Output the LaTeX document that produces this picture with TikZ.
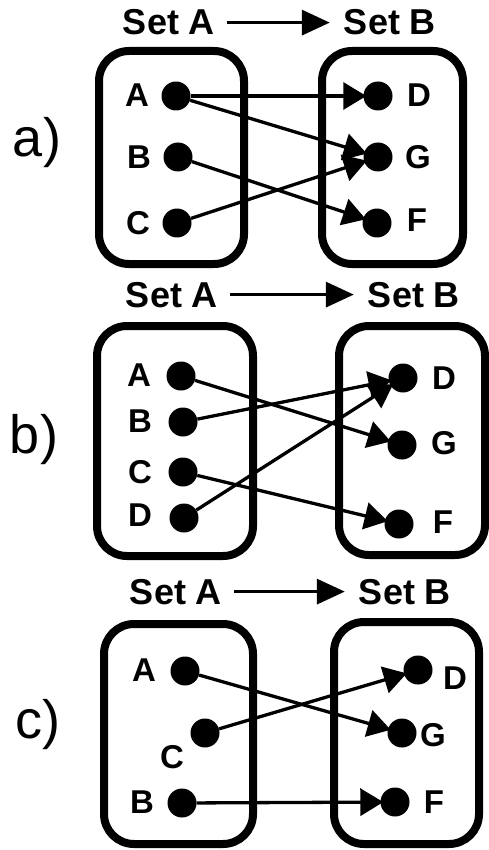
\documentclass[tikz,border=0pt]{standalone}
\usepackage{fontspec}
\setmainfont{Liberation Sans}
\usetikzlibrary{arrows.meta}
\begin{document}
\begin{tikzpicture}[x=1pt,y=-1pt,
  setbox/.style={draw, line width=8pt, rounded corners=30pt},
  dot/.style={circle, fill=black, inner sep=0pt, minimum size=29pt},
  lbl/.style={font=\fontsize{33}{36}\selectfont\bfseries, inner sep=0pt},
  title/.style={font=\fontsize{36}{40}\selectfont\bfseries, inner sep=0pt, anchor=base},
  panel/.style={font=\fontsize{54}{60}\selectfont, inner sep=0pt, anchor=base},
  toparrow/.style={line width=3.5pt, -{Triangle[length=28pt,width=25pt]}, shorten <=12pt, shorten >=14pt},
  mapto/.style={line width=3.3pt, -{Triangle[length=23pt,width=27pt]}, shorten >=-3pt}
]
\fill[white] (0,0) rectangle (489,850);
\useasboundingbox (0,0) rectangle (489,850);

% ---------------- panel a ----------------
\node[panel] (pa) at (37,157) {a)};
\node[title] (aSA) at (169,35) {Set A};
\node[title] (aSB) at (390,35) {Set B};
\draw[toparrow] (aSA) -- (aSB);
\draw[setbox] (99,51) rectangle (244,264);
\draw[setbox] (322,51) rectangle (463,264);
\node[dot] (aA) at (176,96) {};
\node[dot] (aB) at (178,157) {};
\node[dot] (aC) at (177,223) {};
\node[dot] (aD) at (378,96) {};
\node[dot] (aG) at (378,157) {};
\node[dot] (aF) at (377,223) {};
\node[lbl] (laA) at (137,95) {A};
\node[lbl] (laB) at (139,157) {B};
\node[lbl] (laC) at (138,223) {C};
\node[lbl] (laD) at (419,95) {D};
\node[lbl] (laG) at (418,157) {G};
\node[lbl] (laF) at (417,220) {F};
\draw[mapto] (aA) -- (aD);
\draw[mapto] (aA) -- (aG);
\draw[mapto] (aB) -- (aF);
\draw[mapto] (aC) -- (aG);

% ---------------- panel b ----------------
\node[panel] (pb) at (34,453) {b)};
\node[title] (bSA) at (172,307) {Set A};
\node[title] (bSB) at (414,307) {Set B};
\draw[toparrow] (bSA) -- (bSB);
\draw[setbox] (97,326) rectangle (253,556);
\draw[setbox] (339,326) rectangle (485,555);
\node[dot] (bA) at (181,376) {};
\node[dot] (bB) at (183,422) {};
\node[dot] (bC) at (183,472) {};
\node[dot] (bD) at (184,518) {};
\node[dot] (bDD) at (403,378) {};
\node[dot] (bG) at (402,445) {};
\node[dot] (bF) at (399,524) {};
\node[lbl] (lbA) at (139,375) {A};
\node[lbl] (lbB) at (140,421) {B};
\node[lbl] (lbC) at (140,472) {C};
\node[lbl] (lbD) at (140,515) {D};
\node[lbl] (lbDD) at (444,378) {D};
\node[lbl] (lbG) at (444,443) {G};
\node[lbl] (lbF) at (443,522) {F};
\draw[mapto] (bA) -- (bG);
\draw[mapto] (bB) -- (bDD);
\draw[mapto] (bC) -- (bF);
\draw[mapto] (bD) -- (bDD);

% ---------------- panel c ----------------
\node[panel] (pc) at (38,738) {c)};
\node[title] (cSA) at (176,604) {Set A};
\node[title] (cSB) at (405,604) {Set B};
\draw[toparrow] (cSA) -- (cSB);
\draw[setbox] (104,624) rectangle (253,844);
\draw[setbox] (334,622) rectangle (479,844);
\node[dot] (cA) at (185,671) {};
\node[dot] (cC) at (205,733) {};
\node[dot] (cB) at (182,803) {};
\node[dot] (cD) at (418,670) {};
\node[dot] (cG) at (402,733) {};
\node[dot] (cF) at (395,802) {};
\node[lbl] (lcA) at (144,670) {A};
\node[lbl] (lcC) at (172,757) {C};
\node[lbl] (lcB) at (142,802) {B};
\node[lbl] (lcD) at (455,678) {D};
\node[lbl] (lcG) at (433,735) {G};
\node[lbl] (lcF) at (434,802) {F};
\draw[mapto] (cA) -- (cG);
\draw[mapto] (cC) -- (cD);
\draw[mapto] (cB) -- (cF);
\end{tikzpicture}
\end{document}
